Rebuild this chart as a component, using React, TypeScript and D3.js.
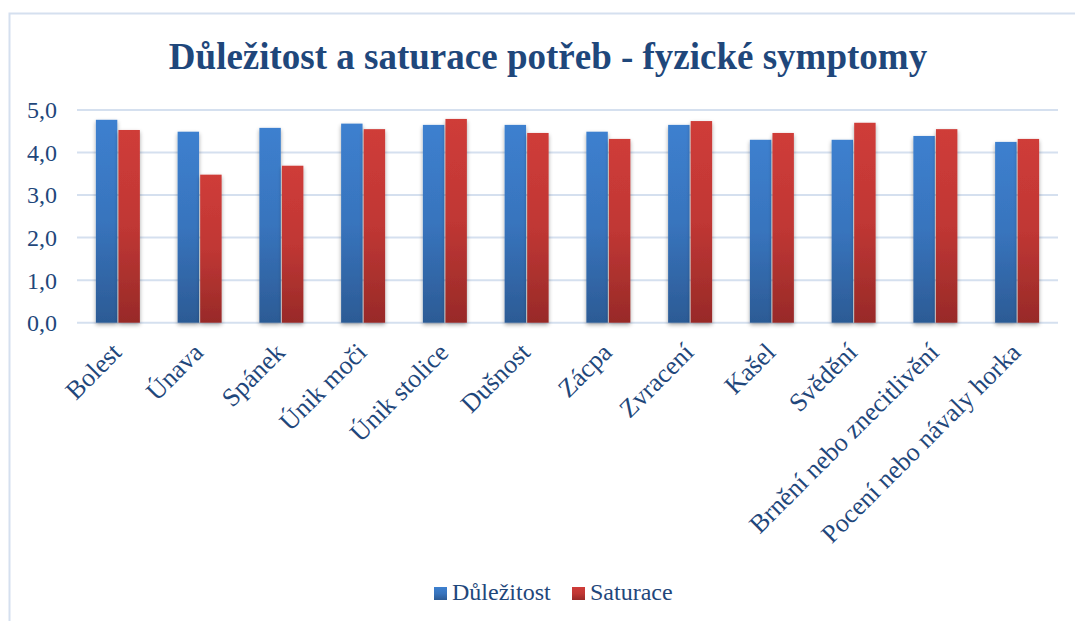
import React from "react";
import * as d3 from "d3";

const categories = [
  "Bolest",
  "Únava",
  "Spánek",
  "Únik moči",
  "Únik stolice",
  "Dušnost",
  "Zácpa",
  "Zvracení",
  "Kašel",
  "Svědění",
  "Brnění nebo znecitlivění",
  "Pocení nebo návaly horka",
];
const dulezitost = [4.77, 4.49, 4.58, 4.68, 4.65, 4.65, 4.49, 4.65, 4.3, 4.3, 4.39, 4.25];
const saturace = [4.53, 3.48, 3.69, 4.55, 4.79, 4.46, 4.32, 4.74, 4.46, 4.7, 4.55, 4.32];
const seriesNames = ["Důležitost", "Saturace"];
const yTicks = [0, 1, 2, 3, 4, 5];

const W = 1075;
const H = 621;
const margin = { left: 77, right: 1058, top: 110, bottom: 322.7 };
const FONT = "'Liberation Serif', 'Times New Roman', serif";
const TEXT = "#1F477B";

export default function App() {
  const x = d3.scaleBand<string>().domain(categories).range([margin.left, margin.right]);
  const y = d3.scaleLinear().domain([0, 5]).range([margin.bottom, margin.top]);
  const inner = d3.scaleBand<number>().domain([0, 1]).range([-22, 22]).paddingInner(0.05);
  const series = [dulezitost, saturace];
  const fmt = (v: number) => v.toFixed(1).replace(".", ",");

  return (
    <svg width={W} height={H} style={{ position: "absolute", left: 0, top: 0 }}>
      <defs>
        <linearGradient id="g0" x1="0" y1="0" x2="0" y2="1">
          <stop offset="0" stopColor="#3D80CF" />
          <stop offset="0.5" stopColor="#3874BD" />
          <stop offset="1" stopColor="#2C5B95" />
        </linearGradient>
        <linearGradient id="g1" x1="0" y1="0" x2="0" y2="1">
          <stop offset="0" stopColor="#CF3C39" />
          <stop offset="0.5" stopColor="#C03734" />
          <stop offset="1" stopColor="#982A28" />
        </linearGradient>
        <filter id="sh" x="-30%" y="-10%" width="160%" height="120%">
          <feGaussianBlur in="SourceAlpha" stdDeviation="2.2" />
          <feOffset dx="0" dy="2" result="b" />
          <feComponentTransfer>
            <feFuncA type="linear" slope="0.35" />
          </feComponentTransfer>
          <feMerge>
            <feMergeNode />
            <feMergeNode in="SourceGraphic" />
          </feMerge>
        </filter>
      </defs>
      <rect x={0} y={0} width={W} height={H} fill="#fff" />
      <path d="M9.5,640 V13.5 H1080" fill="none" stroke="#D5E0EF" strokeWidth={2} />
      <text
        x={548}
        y={69}
        textAnchor="middle"
        fontFamily={FONT}
        fontWeight="bold"
        fontSize={37}
        fill="#1F477B"
      >
        Důležitost a saturace potřeb - fyzické symptomy
      </text>
      {yTicks.map((t) => (
        <g key={t}>
          <line x1={margin.left} x2={margin.right} y1={y(t)} y2={y(t)} stroke="#D5E0EF" strokeWidth={2} />
          <text
            x={57}
            y={y(t)}
            dy="0.35em"
            textAnchor="end"
            fontFamily={FONT}
            fontSize={24}
            fill={TEXT}
          >
            {fmt(t)}
          </text>
        </g>
      ))}
      {categories.map((c, i) => {
        const cx = (x(c) as number) + x.bandwidth() / 2;
        return (
          <g key={c}>
            {series.map((s, k) => (
              <rect
                key={k}
                x={cx + (inner(k) as number)}
                y={y(s[i])}
                width={inner.bandwidth()}
                height={y(0) - y(s[i])}
                fill={`url(#g${k})`}
                filter="url(#sh)"
              />
            ))}
            <text
              transform={`translate(${cx + 5},${354}) rotate(-45)`}
              textAnchor="end"
              fontFamily={FONT}
              fontSize={26}
              fill={TEXT}
            >
              {c}
            </text>
          </g>
        );
      })}
      {seriesNames.map((n, k) => {
        const lx = k === 0 ? 434 : 572;
        return (
          <g key={n}>
            <rect x={lx} y={587} width={13} height={13} fill={`url(#g${k})`} />
            <text x={lx + 18} y={600} fontFamily={FONT} fontSize={24} fill={TEXT}>
              {n}
            </text>
          </g>
        );
      })}
    </svg>
  );
}
